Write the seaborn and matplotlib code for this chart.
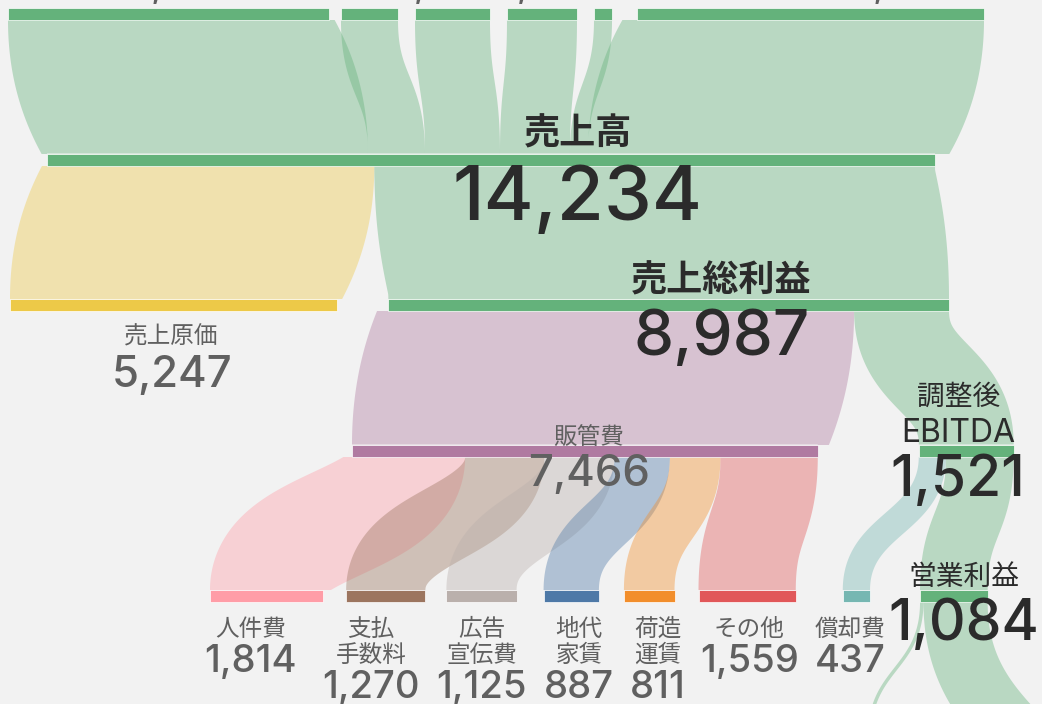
"""
損益フロー（縦型サンキー）: 売上高 → 売上総利益 → 調整後EBITDA → 営業利益
"""

import numpy as np
import matplotlib.pyplot as plt
from matplotlib.patches import Rectangle
import seaborn as sns

sns.set_theme(style="white")
plt.rcParams["font.family"] = ["Noto Sans CJK JP", "DejaVu Sans"]
NUM_FONT = ["Inter", "Noto Sans CJK JP", "DejaVu Sans"]

# ── Data ─────────────────────────────────────────────────────────────────────
# top row segments (their labels are cropped off in the source image)
seg_names = ["区分1", "区分2", "区分3", "区分4", "区分5", "区分6"]
seg_values = [5145, 914, 1202, 1122, 289, 5562]

sales = "売上高"
cogs_name, cogs_value = "売上原価", 5247
gross_name, gross_value = "売上総利益", 8987
sga_name, sga_value = "販管費", 7466
ebitda_name, ebitda_value = "調整後\nEBITDA", 1521
dep_name, dep_value = "償却費", 437
op_name, op_value = "営業利益", 1084

sga_items = ["人件費", "支払\n手数料", "広告\n宣伝費", "地代\n家賃", "荷造\n運賃", "その他"]
sga_values = [1814, 1270, 1125, 887, 811, 1559]

# flows below 営業利益 (their nodes are outside the picture)
below_names = ["営業外費用", "経常利益"]
below_values = [55, 1029]

# ── Links ────────────────────────────────────────────────────────────────────
links = [(s, sales, v) for s, v in zip(seg_names, seg_values)]
links += [(sales, cogs_name, cogs_value), (sales, gross_name, gross_value),
          (gross_name, sga_name, sga_value), (gross_name, ebitda_name, ebitda_value)]
links += [(sga_name, n, v) for n, v in zip(sga_items, sga_values)]
links += [(ebitda_name, dep_name, dep_value), (ebitda_name, op_name, op_value)]
links += [(op_name, n, v) for n, v in zip(below_names, below_values)]

# ── Styling / layout ─────────────────────────────────────────────────────────
BG = "#f2f2f2"
DARK = "#2b2b2b"
GREY = "#606060"
GREEN = "#64b27b"
tab = {"pink": "#ff9da7", "brown": "#9c755f", "grey": "#bab0ac", "blue": "#4e79a7",
       "orange": "#f28e2b", "red": "#e15759", "teal": "#76b7b2",
       "yellow": "#edc948", "purple": "#b07aa1"}
node_color = {n: GREEN for n in seg_names + [sales, gross_name, ebitda_name, op_name] + below_names}
node_color.update({cogs_name: tab["yellow"], sga_name: tab["purple"], dep_name: tab["teal"]})
node_color.update(dict(zip(sga_items, [tab[c] for c in
                                       ["pink", "brown", "grey", "blue", "orange", "red"]])))

ROWS = [seg_names, [sales], [cogs_name, gross_name], [sga_name, ebitda_name],
        sga_items + [dep_name, op_name], [below_names[0]], [below_names[1]]]
ROW_START = [8, 47, 10, 352, 210, 868, 1055]
ROW_GAPS = [[12, 17, 17, 17, 25], [], [51], [101], [23, 21, 27, 25, 24, 47, 50], [], []]
ROW_TOP, ROW_STEP, NODE_H = 8, 145.5, 12
SCALE = 888 / 14234          # px per unit

# node values from the flows
val_in, val_out = {}, {}
for s, t, v in links:
    val_out[s] = val_out.get(s, 0) + v
    val_in[t] = val_in.get(t, 0) + v
nodes = {}
for r, names in enumerate(ROWS):
    x = ROW_START[r]
    for i, n in enumerate(names):
        value = max(val_in.get(n, 0), val_out.get(n, 0))
        w = value * SCALE
        nodes[n] = {"x": x, "y": ROW_TOP + r * ROW_STEP, "w": w, "value": value}
        if i < len(ROW_GAPS[r]):
            x += w + ROW_GAPS[r][i]


def ribbon(x0, y0, x1, y1, w, n=300):
    """Outline of a bezier centre line offset by +-w/2 along its normal."""
    t = np.linspace(0, 1, n)
    ym = (y0 + y1) / 2
    bx = x0 + (x1 - x0) * (3 * t**2 - 2 * t**3)
    by = (1 - t)**3 * y0 + 3 * (1 - t) * t * ym + t**3 * y1
    dx = 6 * (1 - t) * t * (x1 - x0)
    dy = 3 * (1 - t)**2 * (ym - y0) + 3 * t**2 * (y1 - ym)
    ln = np.hypot(dx, dy)
    nx, ny = dy / ln, -dx / ln
    h = w / 2
    xs = np.concatenate([bx + h * nx, (bx - h * nx)[::-1]])
    ys = np.concatenate([by + h * ny, (by - h * ny)[::-1]])
    return xs, ys


# ── Plot ─────────────────────────────────────────────────────────────────────
fig = plt.figure(figsize=(10.42, 7.04), dpi=100, facecolor=BG)
ax = fig.add_axes([0, 0, 1, 1], facecolor=BG)
ax.set_xlim(0, 1042)
ax.set_ylim(704, 0)
ax.axis("off")

off_out = {n: 0.0 for n in nodes}
off_in = {n: 0.0 for n in nodes}
for s, t, v in links:
    w = v * SCALE
    x0 = nodes[s]["x"] + off_out[s] + w / 2
    x1 = nodes[t]["x"] + off_in[t] + w / 2
    off_out[s] += w
    off_in[t] += w
    y0 = nodes[s]["y"] + NODE_H
    y1 = nodes[t]["y"]
    xs, ys = ribbon(x0, y0, x1, y1, w)
    poly = ax.fill(xs, ys, color=node_color[t], alpha=0.4, lw=0, zorder=1)[0]
    poly.set_clip_path(Rectangle((-50, y0), 1150, y1 - y0, transform=ax.transData))

for n, d in nodes.items():
    ax.add_patch(Rectangle((d["x"], d["y"]), d["w"], NODE_H, facecolor=node_color[n],
                           edgecolor="white", lw=0.5, zorder=2))

# label layout: dx, name centre (rel. node top), number baseline (rel. node top),
# name size, number size, colour, name weight
label_style = {
    sales:       (87, -19.5, 66.5, 26, 55, DARK, "bold"),
    gross_name:  (53, -18, 56, 26, 46, DARK, "bold"),
    cogs_name:   (-2, 38, 88, 17, 31.5, GREY, "normal"),
    sga_name:    (4, -7, 42, 17, 31.5, GREY, "normal"),
    ebitda_name: (-8, -30, 52, 20, 41, DARK, "normal"),
    op_name:     (10, -13, 50, 20, 41, DARK, "normal"),
    dep_name:    (-6, 39, 82, 17, 27.5, GREY, "normal"),
}
sga_dx = [-16, -15, 0, 8, 9, 2]
for n, dx in zip(sga_items, sga_dx):
    lines = n.count("\n") + 1
    label_style[n] = (dx, 39, 82 + 26 * (lines - 1), 17, 27.5, GREY, "normal")

for n, (dx, name_y, num_y, fs_name, fs_num, col, wt) in label_style.items():
    d = nodes[n]
    cx = d["x"] + d["w"] / 2 + dx
    parts = n.split("\n")
    if n == ebitda_name:
        step, first = 36, name_y - 18
    else:
        step, first = 26, name_y
    for i, p in enumerate(parts):
        ascii_part = p.isascii()
        ax.text(cx, d["y"] + first + i * step + (1 if ascii_part else 0), p,
                ha="center", va="center", fontsize=23 if ascii_part else fs_name,
                color=col, fontweight=wt, zorder=3,
                family=NUM_FONT if ascii_part else None)
    ax.text(cx, d["y"] + num_y, f"{d['value']:,}", ha="center", va="baseline",
            fontsize=fs_num, color=col, fontweight="medium", family=NUM_FONT, zorder=3)

# top-row values sit above the picture edge; only their comma tails show,
# so the labels without a comma (values under 1,000) are left out
seg_dx = [8.5, 0, -6, 3, 0, 91]
for n, dx in zip(seg_names, seg_dx):
    d = nodes[n]
    if d["value"] < 1000:
        continue
    ax.text(d["x"] + d["w"] / 2 + dx, -3, f"{d['value']:,}", ha="center", va="baseline",
            fontsize=26, color=GREY, fontweight="medium", family=NUM_FONT, zorder=3)

plt.savefig("out.png", dpi=100, facecolor=BG)
